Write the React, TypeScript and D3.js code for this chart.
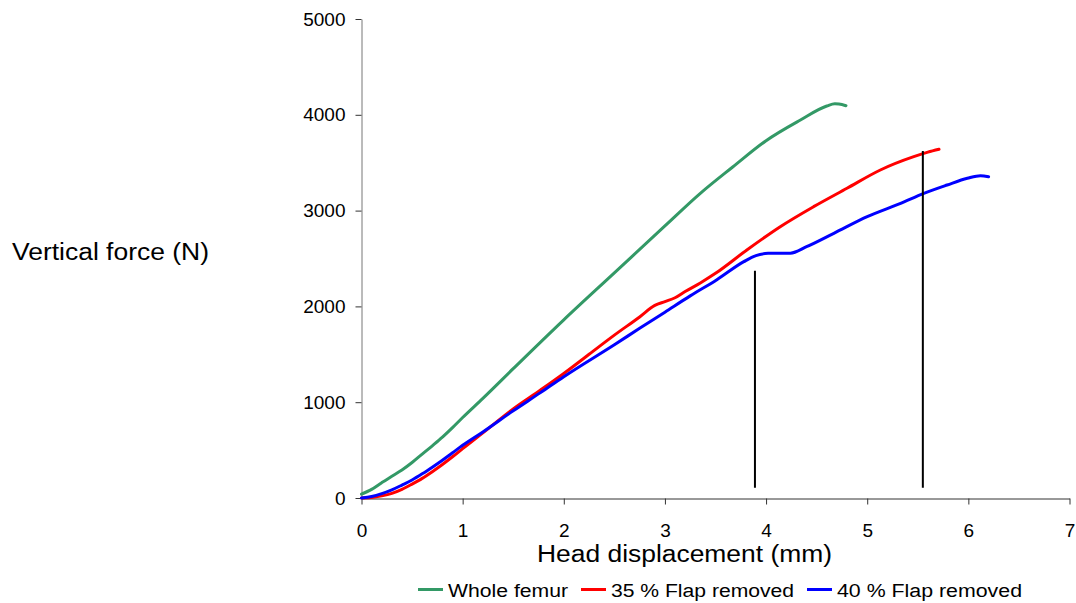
import React, { useEffect, useRef } from 'react';
import * as d3 from 'd3';

// displacement (mm), force (N)
const wholeFemur: [number, number][] = [
  [0, 40], [0.1, 90], [0.2, 160], [0.3, 228], [0.4, 292], [0.5, 370], [0.6, 458],
  [0.7, 545], [0.8, 635], [0.9, 735], [1.0, 840], [1.2, 1040], [1.5, 1350],
  [2.0, 1860], [2.5, 2350], [3.0, 2840], [3.35, 3180], [3.67, 3455], [4.0, 3730],
  [4.34, 3946], [4.6, 4092], [4.68, 4115], [4.72, 4112], [4.79, 4095],
];

const flap35: [number, number][] = [
  [0, 0], [0.1, 5], [0.2, 22], [0.3, 48], [0.4, 90], [0.5, 145], [0.6, 205],
  [0.7, 275], [0.8, 350], [0.9, 430], [1.0, 515], [1.2, 680], [1.5, 930],
  [1.77, 1127], [2.0, 1300], [2.25, 1500], [2.5, 1700], [2.75, 1890], [2.9, 2010],
  [3.0, 2050], [3.1, 2090], [3.2, 2155], [3.35, 2245], [3.5, 2345], [3.81, 2589],
  [4.14, 2832], [4.47, 3041], [4.8, 3233], [5.13, 3424], [5.46, 3563], [5.6, 3610],
  [5.71, 3640],
];

const flap40: [number, number][] = [
  [0, 0], [0.1, 15], [0.2, 45], [0.3, 85], [0.4, 135], [0.5, 188], [0.6, 252],
  [0.7, 322], [0.8, 395], [0.9, 472], [1.0, 550], [1.2, 690], [1.5, 910],
  [1.77, 1100], [2.0, 1266], [2.5, 1600], [2.75, 1771], [3.0, 1940], [3.25, 2110],
  [3.51, 2276], [3.78, 2467], [3.9, 2530], [4.02, 2554], [4.1, 2556], [4.24, 2556],
  [4.4, 2623], [4.67, 2763], [5.0, 2937], [5.33, 3076], [5.56, 3180], [5.79, 3267],
  [5.99, 3337], [6.12, 3365], [6.2, 3354],
];

// failure markers: displacement, top force, bottom force
const markers: [number, number, number][] = [
  [3.89, 2372, 107],
  [5.55, 3622, 107],
];

const seriesNames = ['Whole femur', '35 % Flap removed', '40 % Flap removed'];
const seriesColors = ['#339966', '#ff0000', '#0000ff'];
const xTicks = [0, 1, 2, 3, 4, 5, 6, 7];
const yTicks = [0, 1000, 2000, 3000, 4000, 5000];

const FONT = '"Liberation Sans", Arial, sans-serif';

export default function App() {
  const svgRef = useRef<SVGSVGElement>(null);
  const W = 1076;
  const H = 603;

  useEffect(() => {
    const svg = d3.select(svgRef.current);
    svg.selectAll('*').remove();

    const x = d3.scaleLinear().domain([0, 7]).range([361.5, 1069.5]);
    const y = d3.scaleLinear().domain([0, 5000]).range([498, 19]);

    // axes
    const gx = svg.append('g')
      .attr('transform', 'translate(0,498.5)')
      .call(d3.axisBottom(x).tickValues(xTicks).tickFormat(d3.format('d'))
        .tickSize(6).tickPadding(19).tickSizeOuter(0));
    gx.select('.domain').attr('stroke', '#333');
    gx.selectAll('.tick line').attr('stroke', '#333');
    gx.selectAll('text').attr('font-family', FONT).attr('font-size', 19).attr('fill', '#000');

    const gy = svg.append('g')
      .attr('transform', 'translate(361.5,0)')
      .call(d3.axisLeft(y).tickValues(yTicks).tickFormat(d3.format('d'))
        .tickSize(6).tickPadding(10).tickSizeOuter(0));
    gy.select('.domain').attr('stroke', '#777');
    gy.selectAll('.tick line').attr('stroke', '#333');
    gy.selectAll('text').attr('font-family', FONT).attr('font-size', 19).attr('fill', '#000');

    // curves
    const line = d3.line<[number, number]>()
      .x(d => x(d[0]))
      .y(d => y(d[1]))
      .curve(d3.curveMonotoneX);

    [wholeFemur, flap35, flap40].forEach((data, i) => {
      svg.append('path')
        .datum(data)
        .attr('fill', 'none')
        .attr('stroke', seriesColors[i])
        .attr('stroke-width', 3)
        .attr('stroke-linejoin', 'round')
        .attr('stroke-linecap', 'round')
        .attr('d', line);
    });

    // vertical marker lines
    markers.forEach(m => {
      svg.append('line')
        .attr('x1', x(m[0])).attr('x2', x(m[0]))
        .attr('y1', y(m[1])).attr('y2', y(m[2]))
        .attr('stroke', '#000')
        .attr('stroke-width', 2);
    });

    // axis titles
    svg.append('text')
      .attr('x', 537).attr('y', 562)
      .attr('font-family', FONT).attr('font-size', 23)
      .attr('textLength', 295).attr('lengthAdjust', 'spacingAndGlyphs')
      .text('Head displacement (mm)');

    svg.append('text')
      .attr('x', 12).attr('y', 260)
      .attr('font-family', FONT).attr('font-size', 23)
      .attr('textLength', 197).attr('lengthAdjust', 'spacingAndGlyphs')
      .text('Vertical force (N)');

    // legend
    const legendX = [418, 581, 807];
    const legendLen = [120, 183, 185];
    seriesNames.forEach((name, i) => {
      svg.append('line')
        .attr('x1', legendX[i]).attr('x2', legendX[i] + 25)
        .attr('y1', 589.5).attr('y2', 589.5)
        .attr('stroke', seriesColors[i])
        .attr('stroke-width', 3);
      svg.append('text')
        .attr('x', legendX[i] + 30).attr('y', 597)
        .attr('font-family', FONT).attr('font-size', 18)
        .attr('textLength', legendLen[i]).attr('lengthAdjust', 'spacingAndGlyphs')
        .text(name);
    });
  }, []);

  return (
    <svg
      ref={svgRef}
      width={W}
      height={H}
      style={{ position: 'absolute', left: 0, top: 0, background: '#fff' }}
    />
  );
}
